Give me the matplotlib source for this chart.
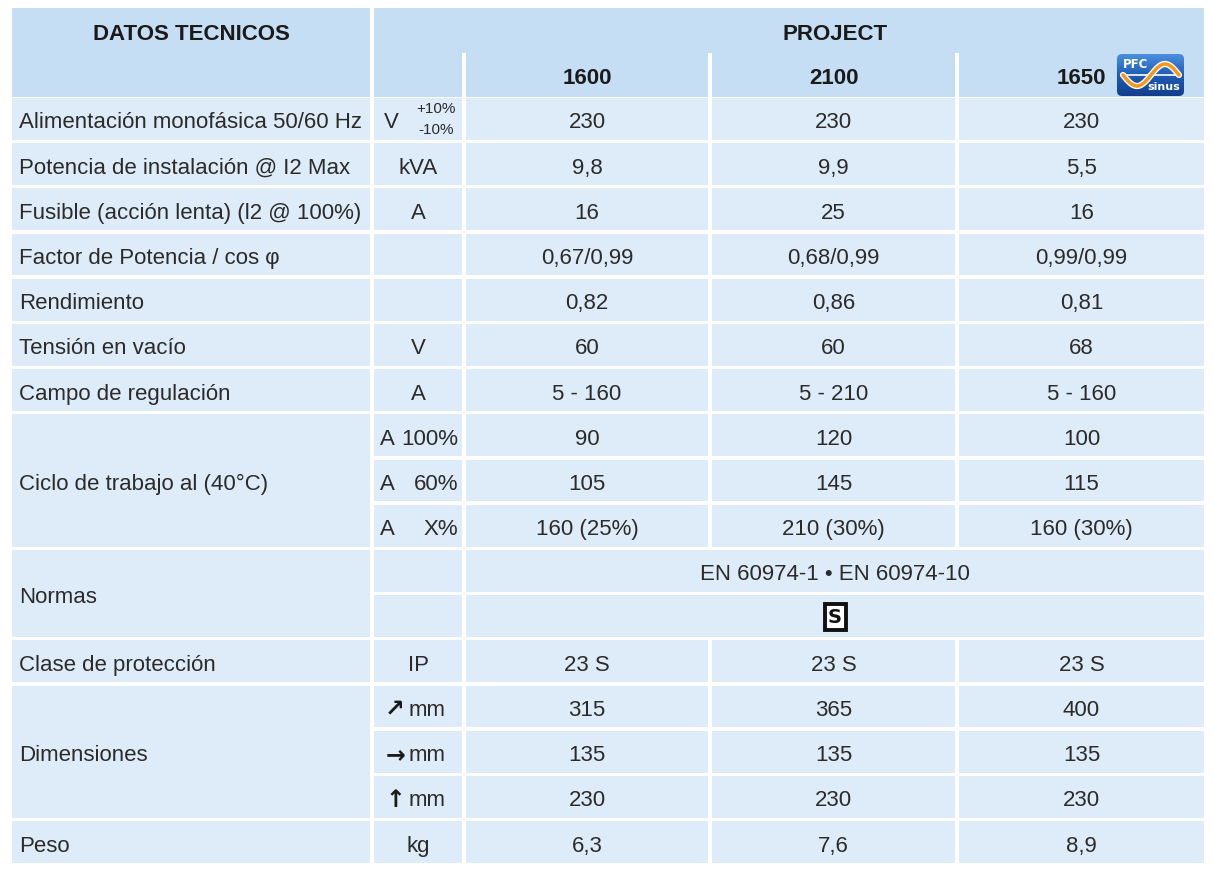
import numpy as np
import matplotlib
matplotlib.use("Agg")
import matplotlib.pyplot as plt
from matplotlib.patches import Rectangle, FancyBboxPatch

# ---- table content ----
labels = ["Alimentación monofásica 50/60 Hz", "Potencia de instalación @ I2 Max",
          "Fusible (acción lenta) (l2 @ 100%)", "Factor de Potencia / cos φ",
          "Rendimiento", "Tensión en vacío", "Campo de regulación",
          "Ciclo de trabajo al (40°C)", "Normas", "Clase de protección",
          "Dimensiones", "Peso"]
label_spans = [1, 1, 1, 1, 1, 1, 1, 3, 2, 1, 3, 1]

units = ["V", "kVA", "A", "", "", "V", "A",
         "A|100%", "A|60%", "A|X%", "", "", "IP",
         "↗|mm", "→|mm", "↑|mm", "kg"]

models = ["1600", "2100", "1650"]
vals_1600 = ["230", "9,8", "16", "0,67/0,99", "0,82", "60", "5 - 160", "90", "105",
             "160 (25%)", None, None, "23 S", "315", "135", "230", "6,3"]
vals_2100 = ["230", "9,9", "25", "0,68/0,99", "0,86", "60", "5 - 210", "120", "145",
             "210 (30%)", None, None, "23 S", "365", "135", "230", "7,6"]
vals_1650 = ["230", "5,5", "16", "0,99/0,99", "0,81", "68", "5 - 160", "100", "115",
             "160 (30%)", None, None, "23 S", "400", "135", "230", "8,9"]
normas = ["EN 60974-1 • EN 60974-10", "S"]

# ---- style ----
plt.rcParams["font.family"] = ["Liberation Sans", "DejaVu Sans"]
HEAD = "#c6def3"
BODY = "#deebf8"
TXT = "#2b2b2b"
FS = 16
DY = 4  # push text down a little, like the reference

W, H = 1213, 874
fig = plt.figure(figsize=(W / 100, H / 100), dpi=100)
ax = fig.add_axes([0, 0, 1, 1])
ax.set_xlim(0, W)
ax.set_ylim(H, 0)
ax.axis("off")

gap = 4
col_x = [12, 374, 466, 712, 959]
col_w = [358, 88, 242, 243, 245]
head_top, head_bot, sub_top = 8, 97, 53
row0, pitch, rh = 98, 45.2, 41.8


def cell(x, y, w, h, color=BODY):
    ax.add_patch(Rectangle((x, y), w, h, facecolor=color, edgecolor="none"))


def cx(i):
    return col_x[i] + col_w[i] / 2


def ry(i):
    return row0 + pitch * i + rh / 2 + DY


# header
cell(col_x[0], head_top, col_w[0], head_bot - head_top, HEAD)
cell(col_x[1], head_top, col_x[4] + col_w[4] - col_x[1], head_bot - head_top, HEAD)
for i in (1, 2, 3):
    ax.add_patch(Rectangle((col_x[i + 1] - gap, sub_top), gap, head_bot - sub_top,
                           facecolor="white", edgecolor="none"))
ax.text(cx(0), 34, "DATOS TECNICOS", ha="center", va="center", fontsize=FS,
        fontweight="bold", color="#1a1a1a")
ax.text((col_x[2] + col_x[4] + col_w[4]) / 2, 34, "PROJECT", ha="center", va="center",
        fontsize=FS, fontweight="bold", color="#1a1a1a")
for j, m in enumerate(models):
    ax.text(cx(j + 2), 78, m, ha="center", va="center", fontsize=FS,
            fontweight="bold", color="#1a1a1a")

# PFC sinus logo
lx0, ly0, lw_, lh_ = 1117, 54, 67, 42
logo = FancyBboxPatch((lx0, ly0), lw_, lh_, boxstyle="round,pad=0,rounding_size=5",
                      facecolor="none", edgecolor="none")
ax.add_patch(logo)
grad = np.linspace(0, 1, 50).reshape(-1, 1)
im = ax.imshow(grad, extent=(lx0, lx0 + lw_, ly0 + lh_, ly0), aspect="auto",
               cmap=matplotlib.colors.LinearSegmentedColormap.from_list(
                   "pfc", ["#4a8fdc", "#1f5db5", "#123f8c"]), zorder=3)
im.set_clip_path(logo)
ax.plot([lx0 + 4, lx0 + lw_ - 4], [ly0 + lh_ / 2, ly0 + lh_ / 2], color="white",
        lw=1.2, zorder=4)
sx = np.linspace(lx0 + 6, lx0 + lw_ - 5, 80)
sy = ly0 + lh_ / 2 + 11 * np.sin(2 * np.pi * (sx - sx[0]) / (sx[-1] - sx[0]))
ax.plot(sx, sy, color="white", lw=4.5, zorder=5, solid_capstyle="round")
ax.plot(sx, sy, color="#f39a1e", lw=2.6, zorder=6, solid_capstyle="round")
ax.text(lx0 + 6, ly0 + 10, "PFC", color="white", fontsize=8.5, fontweight="bold",
        family="DejaVu Sans", ha="left", va="center", zorder=7)
ax.text(lx0 + lw_ - 4, ly0 + lh_ - 9, "sinus", color="white", fontsize=8,
        fontweight="bold", family="DejaVu Sans", ha="right", va="center", zorder=7)

# label column (merged cells)
r = 0
for lab, sp in zip(labels, label_spans):
    top = row0 + pitch * r
    h = pitch * (sp - 1) + rh
    cell(col_x[0], top, col_w[0], h)
    ax.text(col_x[0] + 7, top + h / 2 + DY, lab, ha="left", va="center", fontsize=FS,
            color=TXT)
    r += sp

# unit column
for i, u in enumerate(units):
    cell(col_x[1], row0 + pitch * i, col_w[1], rh)
    y = ry(i)
    if i == 0:
        ax.text(col_x[1] + 10, y, u, ha="left", va="center", fontsize=FS, color=TXT)
        ax.text(col_x[1] + 62, y - 14, "+10%", ha="center", va="center", fontsize=11,
                color=TXT)
        ax.text(col_x[1] + 62, y + 7, "-10%", ha="center", va="center", fontsize=11,
                color=TXT)
    elif "|" in u:
        a, b = u.split("|")
        if a == "A":
            ax.text(col_x[1] + 6, y, a, ha="left", va="center", fontsize=FS, color=TXT)
            ax.text(col_x[1] + col_w[1] - 4, y, b, ha="right", va="center",
                    fontsize=FS, color=TXT)
        else:
            ax.text(cx(1) - 13, y - 1, a, ha="right", va="center", fontsize=17,
                    fontweight="bold", family="DejaVu Sans", color="#1a1a1a")
            ax.text(cx(1) - 9, y, b, ha="left", va="center", fontsize=FS, color=TXT)
    elif u:
        ax.text(cx(1), y, u, ha="center", va="center", fontsize=FS, color=TXT)

# value columns
full_w = col_x[4] + col_w[4] - col_x[2]
for i in range(len(units)):
    top = row0 + pitch * i
    if vals_1600[i] is None:
        cell(col_x[2], top, full_w, rh)
        k = i - vals_1600.index(None)
        xm = col_x[2] + full_w / 2
        if normas[k] == "S":
            ax.text(xm, ry(i) - 3, "S", ha="center", va="center", fontsize=14,
                    fontweight="bold", family="DejaVu Sans", color="#111111",
                    bbox=dict(boxstyle="square,pad=0.18", facecolor="white",
                              edgecolor="#111111", linewidth=2.8))
        else:
            ax.text(xm, ry(i), normas[k], ha="center", va="center", fontsize=FS,
                    color=TXT)
        continue
    for j, vals in enumerate([vals_1600, vals_2100, vals_1650]):
        cell(col_x[j + 2], top, col_w[j + 2], rh)
        ax.text(cx(j + 2), ry(i), vals[i], ha="center", va="center", fontsize=FS,
                color=TXT)

fig.savefig("out.png", dpi=100, facecolor="white")
